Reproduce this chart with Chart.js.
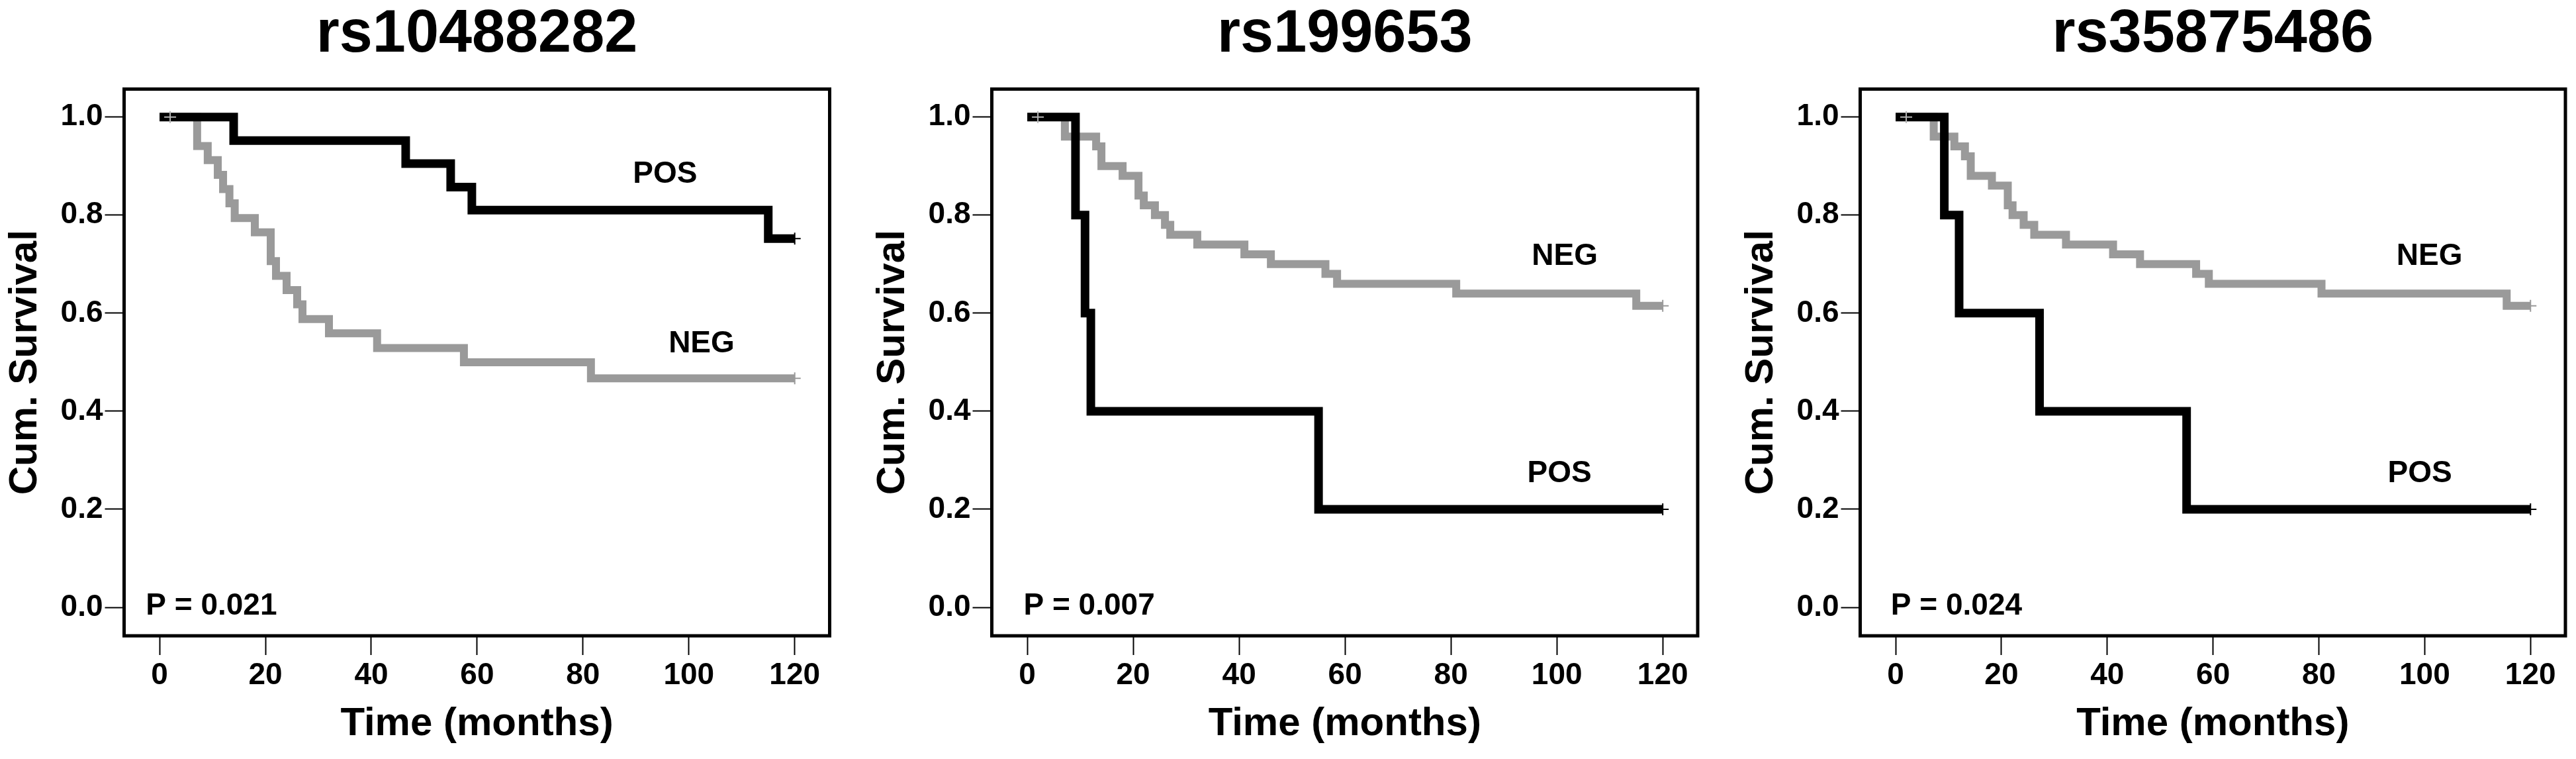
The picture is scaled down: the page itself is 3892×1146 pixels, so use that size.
<!DOCTYPE html>
<html>
<head>
<meta charset="utf-8">
<title>Kaplan-Meier curves</title>
<script src="https://cdn.jsdelivr.net/npm/chart.js@4.4.1/dist/chart.umd.min.js"></script>
<style>
  html, body { margin: 0; padding: 0; background: #fff; }
  body { width: 3892px; height: 1146px; position: relative; overflow: hidden; }
  canvas { position: absolute; top: 0; }
</style>
</head>
<body>
<canvas id="km0"></canvas>
<canvas id="km1"></canvas>
<canvas id="km2"></canvas>
<script>
// ---- data ----
var panelTitles = ['rs10488282', 'rs199653', 'rs35875486'];
var pValueLabels = ['P = 0.021', 'P = 0.007', 'P = 0.024'];
var monthTicks = [0, 20, 40, 60, 80, 100, 120];
var survivalTicks = [0, 0.2, 0.4, 0.6, 0.8, 1.0];

// rs10488282
var rs10488282PosTimes = [0, 14.0, 46.5, 55.0, 59.0, 115.0, 120];
var rs10488282PosSurv = [1, 0.952, 0.905, 0.857, 0.810, 0.752, 0.752];
var rs10488282NegTimes = [0, 7.1, 9.1, 11.0, 12.0, 13.2, 14.2, 18.0, 21.0, 22.0, 24.0, 26.0, 27.0, 32.0, 41.1, 57.5, 81.5, 120];
var rs10488282NegSurv = [1, 0.941, 0.912, 0.882, 0.853, 0.824, 0.794, 0.765, 0.706, 0.676, 0.647, 0.618, 0.588, 0.559, 0.529, 0.500, 0.467, 0.467];

// rs199653
var rs199653PosTimes = [0, 9.1, 10.9, 12.0, 55.0, 120];
var rs199653PosSurv = [1, 0.8, 0.6, 0.4, 0.2, 0.2];
var rs199653NegTimes = [0, 7.1, 13.0, 14.0, 18.0, 21.0, 22.0, 24.1, 26.0, 27.0, 32.1, 41.0, 46.0, 56.3, 58.5, 81.0, 115.0, 120];
var rs199653NegSurv = [1, 0.96, 0.94, 0.90, 0.88, 0.84, 0.82, 0.80, 0.78, 0.76, 0.74, 0.72, 0.70, 0.68, 0.66, 0.64, 0.615, 0.615];

// rs35875486
var rs35875486PosTimes = [0, 9.2, 12.0, 27.2, 55.0, 120];
var rs35875486PosSurv = [1, 0.8, 0.6, 0.4, 0.2, 0.2];
var rs35875486NegTimes = [0, 7.2, 11.1, 13.1, 14.2, 18.2, 21.2, 22.1, 24.2, 26.2, 32.2, 41.1, 46.2, 56.8, 59.2, 80.5, 115.5, 120];
var rs35875486NegSurv = [1, 0.96, 0.94, 0.92, 0.88, 0.86, 0.82, 0.80, 0.78, 0.76, 0.74, 0.72, 0.70, 0.68, 0.66, 0.64, 0.615, 0.615];

// censored cases that show as small crosses
var censorStartTime = 2;
var censorEndTime = 120;

(function () {
    "use strict";

    var FONT = '"Liberation Sans", Arial, sans-serif';
    var GREY = '#9a9a9a';

    // where each plot box sits on the page
    var boxLeft = [187.5, 1498.5, 2810];
    var boxRight = [1253.5, 2565, 3875.5];
    var boxTop = 134.5;
    var yAxisWidth = 187.5;
    var xAxisHeight = 186;
    var canvasWidth = 1269;

    // label anchors, in data units [month, survival]
    var posLabelAt = [[95.5, 0.883], [100.5, 0.273], [99.1, 0.273]];
    var negLabelAt = [[102.4, 0.537], [101.5, 0.716], [100.9, 0.716]];
    var pLabelAt = [[-2.6, 0.002], [-0.7, 0.002], [-0.9, 0.002]];

    var panels = [
        { pos: [rs10488282PosTimes, rs10488282PosSurv], neg: [rs10488282NegTimes, rs10488282NegSurv] },
        { pos: [rs199653PosTimes, rs199653PosSurv], neg: [rs199653NegTimes, rs199653NegSurv] },
        { pos: [rs35875486PosTimes, rs35875486PosSurv], neg: [rs35875486NegTimes, rs35875486NegSurv] }
    ];

    function toPoints(times, surv) {
        return times.map(function (t, i) { return { x: t, y: surv[i] }; });
    }

    function last(arr) { return arr[arr.length - 1]; }

    // frame + title + in-plot labels
    var decorPlugin = {
        id: 'kmDecor',
        afterDraw: function (chart) {
            var ctx = chart.ctx;
            var a = chart.chartArea;
            var o = chart.options.plugins.kmDecor;
            var xs = chart.scales.x, ys = chart.scales.y;
            ctx.save();
            ctx.strokeStyle = '#000';
            ctx.lineWidth = 5;
            ctx.strokeRect(a.left, a.top, a.right - a.left, a.bottom - a.top);

            ctx.fillStyle = '#000';
            ctx.font = 'bold 90px ' + FONT;
            ctx.textAlign = 'center';
            ctx.textBaseline = 'alphabetic';
            ctx.fillText(o.title, (a.left + a.right) / 2, 78);

            ctx.font = 'bold 46px ' + FONT;
            ctx.textBaseline = 'middle';
            ctx.fillText('POS', xs.getPixelForValue(o.pos[0]), ys.getPixelForValue(o.pos[1]));
            ctx.fillText('NEG', xs.getPixelForValue(o.neg[0]), ys.getPixelForValue(o.neg[1]));
            ctx.textAlign = 'left';
            ctx.fillText(o.pText, xs.getPixelForValue(o.p[0]), ys.getPixelForValue(o.p[1]));
            ctx.restore();
        }
    };

    panels.forEach(function (p, i) {
        var canvas = document.getElementById('km' + i);
        var left = boxLeft[i] - yAxisWidth;
        var padRight = canvasWidth - yAxisWidth - (boxRight[i] - boxLeft[i]);
        canvas.width = canvasWidth;
        canvas.height = 1146;
        canvas.style.left = left + 'px';

        var tickFont = { family: FONT, size: 46, weight: 'bold' };
        var titleFont = { family: FONT, size: 60, weight: 'bold' };
        var grid = { display: true, drawOnChartArea: false, drawTicks: true, tickLength: 29, tickWidth: 2, tickColor: '#000' };

        new Chart(canvas, {
            type: 'line',
            data: {
                datasets: [
                    {   // censor crosses
                        data: [{ x: censorStartTime, y: p.neg[1][0] }, { x: censorEndTime, y: last(p.neg[1]) }],
                        showLine: false, pointStyle: 'cross', pointRadius: 9, pointBorderWidth: 2,
                        pointBorderColor: ['#b5b5b5', GREY], order: 0
                    },
                    {
                        data: [{ x: censorEndTime, y: last(p.pos[1]) }],
                        showLine: false, pointStyle: 'cross', pointRadius: 9, pointBorderWidth: 2,
                        pointBorderColor: '#000', order: 0
                    },
                    {
                        label: 'POS', data: toPoints(p.pos[0], p.pos[1]), stepped: 'before',
                        borderColor: '#000', borderWidth: 13, pointRadius: 0, fill: false,
                        borderJoinStyle: 'miter', borderCapStyle: 'butt', order: 1
                    },
                    {
                        label: 'NEG', data: toPoints(p.neg[0], p.neg[1]), stepped: 'before',
                        borderColor: GREY, borderWidth: 12, pointRadius: 0, fill: false,
                        borderJoinStyle: 'miter', borderCapStyle: 'butt', order: 2
                    }
                ]
            },
            options: {
                responsive: false,
                animation: false,
                devicePixelRatio: 1,
                layout: { padding: { top: boxTop, left: 0, right: padRight, bottom: 0 } },
                plugins: {
                    legend: { display: false },
                    tooltip: { enabled: false },
                    title: { display: false },
                    kmDecor: {
                        title: panelTitles[i], pText: pValueLabels[i],
                        pos: posLabelAt[i], neg: negLabelAt[i], p: pLabelAt[i]
                    }
                },
                scales: {
                    x: {
                        type: 'linear', min: -6.7, max: 126.6,
                        afterBuildTicks: function (s) { s.ticks = monthTicks.map(function (v) { return { value: v }; }); },
                        afterFit: function (s) { s.height = xAxisHeight; },
                        ticks: { font: tickFont, color: '#000', padding: 4, maxRotation: 0, autoSkip: false },
                        grid: grid,
                        border: { display: false },
                        title: { display: true, text: 'Time (months)', font: titleFont, color: '#000', padding: { top: 0, bottom: 17 } }
                    },
                    y: {
                        type: 'linear', min: -0.058, max: 1.057,
                        afterBuildTicks: function (s) { s.ticks = survivalTicks.map(function (v) { return { value: v }; }); },
                        afterFit: function (s) { s.width = yAxisWidth; },
                        ticks: {
                            font: tickFont, color: '#000', padding: 3,
                            callback: function (v) { return Number(v).toFixed(1); }
                        },
                        grid: grid,
                        border: { display: false },
                        title: { display: true, text: 'Cum. Survival', font: titleFont, color: '#000', padding: { top: 2, bottom: 0 } }
                    }
                }
            },
            plugins: [decorPlugin]
        });
    });
}());
</script>
</body>
</html>
